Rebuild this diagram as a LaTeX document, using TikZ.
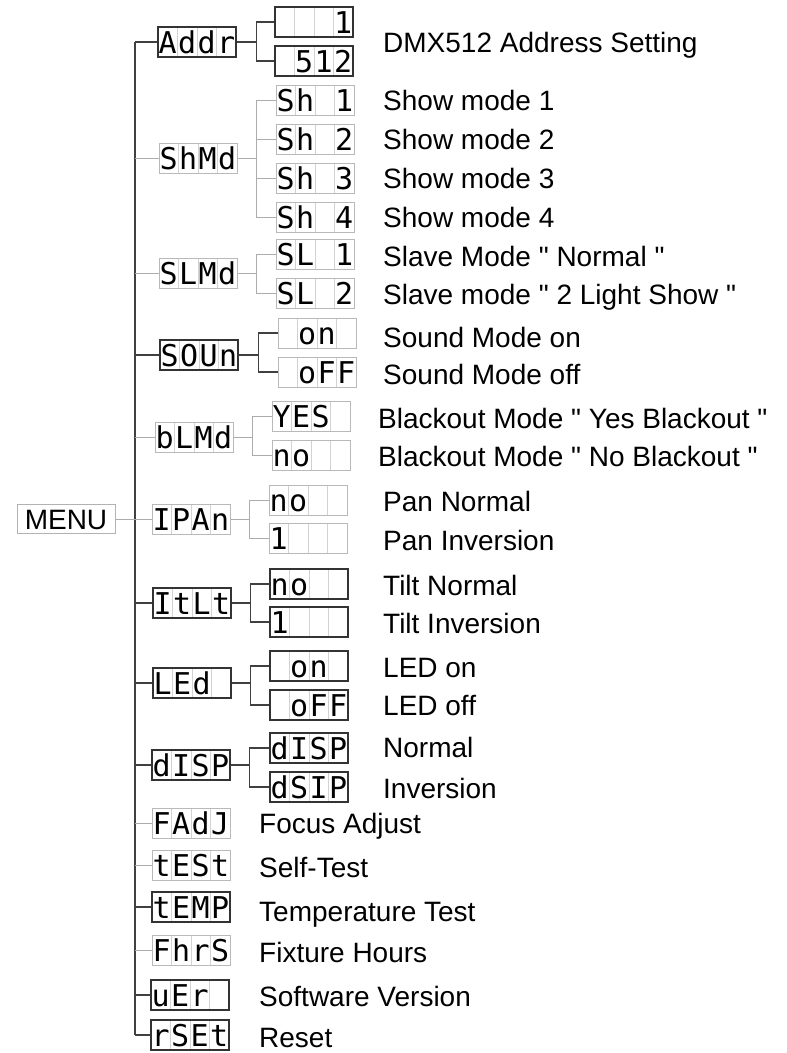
\documentclass[tikz,border=0pt]{standalone}
\usepackage{fontspec}
\setmainfont{Liberation Sans}
\newfontfamily\segfont{DejaVu Sans Mono}
\usepackage{tikz}

% four display digits in one box
\newcommand{\lcdtxt}[4]{\makebox[19.5pt]{#1}\makebox[19.5pt]{#2}\makebox[19.5pt]{#3}\makebox[19.5pt]{#4}}

\begin{document}
\begin{tikzpicture}
[x=1pt, y=-1pt,
 lcd/.style={rectangle, draw=gray!55, line width=1pt, inner sep=0pt,
   minimum width=78pt, minimum height=30pt, text height=22pt, text depth=0pt,
   font=\segfont\fontsize{30}{30}\selectfont,
   path picture={\foreach \i in {1,2,3}
     \draw[gray!35, line width=0.8pt] ([xshift=\i*19.5pt]path picture bounding box.north west)
       -- ([xshift=\i*19.5pt]path picture bounding box.south west);}},
 lcdd/.style={lcd, draw=black!80, line width=1.5pt},
 menubox/.style={rectangle, draw=gray!60, line width=1pt, inner sep=0pt,
   minimum width=98pt, minimum height=29pt, text height=20pt, text depth=0pt,
   font=\fontsize{28}{30}\selectfont},
 lbl/.style={anchor=west, inner sep=0pt, text height=20pt, text depth=0pt,
   font=\fontsize{28}{30}\selectfont},
 wire/.style={draw=black!75, line width=1.3pt},
 wirel/.style={draw=gray!65, line width=1pt}]

\useasboundingbox (0,0) rectangle (787,1053);

% menu and first level
\node[menubox] (menu) at (66,519) {MENU};
\node[lcdd] (addr) at (197,42) {\lcdtxt{A}{d}{d}{r}};
\node[lcd] (shmd) at (198,158) {\lcdtxt{S}{h}{M}{d}};
\node[lcd] (slmd) at (198,273) {\lcdtxt{S}{L}{M}{d}};
\node[lcdd] (soun) at (199,355) {\lcdtxt{S}{O}{U}{n}};
\node[lcd] (blmd) at (194,437) {\lcdtxt{b}{L}{M}{d}};
\node[lcd] (ipan) at (191,519) {\lcdtxt{I}{P}{A}{n}};
\node[lcdd] (itlt) at (192,603) {\lcdtxt{I}{t}{L}{t}};
\node[lcdd] (led) at (192,683) {\lcdtxt{L}{E}{d}{}};
\node[lcdd] (disp) at (191,765) {\lcdtxt{d}{I}{S}{P}};
\node[lcd] (fadj) at (191,823) {\lcdtxt{F}{A}{d}{J}};
\node[lcd] (test) at (191,865) {\lcdtxt{t}{E}{S}{t}};
\node[lcdd] (temp) at (191,907) {\lcdtxt{t}{E}{M}{P}};
\node[lcd] (fhrs) at (191,950) {\lcdtxt{F}{h}{r}{S}};
\node[lcdd] (ver) at (190,995) {\lcdtxt{u}{E}{r}{}};
\node[lcdd] (rset) at (190,1035) {\lcdtxt{r}{S}{E}{t}};

% second level
\node[lcdd] (adr1) at (314,22) {\lcdtxt{}{}{}{1}};
\node[lcdd] (adr2) at (314,61) {\lcdtxt{}{5}{1}{2}};
\node[lcd] (sh1) at (315,100) {\lcdtxt{S}{h}{}{1}};
\node[lcd] (sh2) at (315,139) {\lcdtxt{S}{h}{}{2}};
\node[lcd] (sh3) at (315,178) {\lcdtxt{S}{h}{}{3}};
\node[lcd] (sh4) at (315,217) {\lcdtxt{S}{h}{}{4}};
\node[lcd] (sl1) at (315,254) {\lcdtxt{S}{L}{}{1}};
\node[lcd] (sl2) at (315,293) {\lcdtxt{S}{L}{}{2}};
\node[lcd] (son) at (317,333) {\lcdtxt{}{o}{n}{}};
\node[lcd] (soff) at (317,372) {\lcdtxt{}{o}{F}{F}};
\node[lcd] (byes) at (311,416) {\lcdtxt{Y}{E}{S}{}};
\node[lcd] (bno) at (311,455) {\lcdtxt{n}{o}{}{}};
\node[lcd] (pno) at (308,500) {\lcdtxt{n}{o}{}{}};
\node[lcd] (pinv) at (308,538) {\lcdtxt{1}{}{}{}};
\node[lcdd] (tno) at (309,584) {\lcdtxt{n}{o}{}{}};
\node[lcdd] (tinv) at (309,622) {\lcdtxt{1}{}{}{}};
\node[lcdd] (lon) at (309,666) {\lcdtxt{}{o}{n}{}};
\node[lcdd] (loff) at (309,705) {\lcdtxt{}{o}{F}{F}};
\node[lcdd] (dnor) at (309,748) {\lcdtxt{d}{I}{S}{P}};
\node[lcdd] (dinv) at (309,787) {\lcdtxt{d}{S}{I}{P}};

% descriptions
\node[lbl] at (383,42) {DMX512 Address Setting};
\node[lbl] at (383,100) {Show mode 1};
\node[lbl] at (383,139) {Show mode 2};
\node[lbl] at (383,178) {Show mode 3};
\node[lbl] at (383,217) {Show mode 4};
\node[lbl] at (383,256) {Slave Mode \textquotedbl{} Normal \textquotedbl};
\node[lbl] at (383,294) {Slave mode \textquotedbl{} 2 Light Show \textquotedbl};
\node[lbl] at (383,337) {Sound Mode on};
\node[lbl] at (383,374) {Sound Mode off};
\node[lbl] at (378,418) {Blackout Mode \textquotedbl{} Yes Blackout \textquotedbl};
\node[lbl] at (378,456) {Blackout Mode \textquotedbl{} No Blackout \textquotedbl};
\node[lbl] at (383,501) {Pan Normal};
\node[lbl] at (383,540) {Pan Inversion};
\node[lbl] at (383,585) {Tilt Normal};
\node[lbl] at (383,623) {Tilt Inversion};
\node[lbl] at (383,667) {LED on};
\node[lbl] at (383,705) {LED off};
\node[lbl] at (383,747) {Normal};
\node[lbl] at (383,788) {Inversion};
\node[lbl] at (259,823) {Focus Adjust};
\node[lbl] at (259,867) {Self-Test};
\node[lbl] at (259,911) {Temperature Test};
\node[lbl] at (259,952) {Fixture Hours};
\node[lbl] at (259,996) {Software Version};
\node[lbl] at (259,1037) {Reset};

% trunk
\coordinate (ttop) at (135,42);
\coordinate (tbot) at (135,1035);
\draw[wire] (ttop) -- (tbot);
\draw[wirel] (menu.east) -- (menu.east -| ttop);
\foreach \s in {addr,soun,itlt,led,disp,temp,ver,rset}
  \draw[wire] (\s.west) -- (\s.west -| ttop);
\foreach \s in {shmd,slmd,blmd,ipan,fadj,test,fhrs}
  \draw[wirel] (\s.west) -- (\s.west -| ttop);

% branches
\draw[wire] (addr.east) -- ++(20,0) |- (adr1.west);
\draw[wire] (addr.east) -- ++(20,0) |- (adr2.west);
\draw[wirel] (shmd.east) -- ++(19,0) |- (sh1.west);
\draw[wirel] (shmd.east) -- ++(19,0) |- (sh2.west);
\draw[wirel] (shmd.east) -- ++(19,0) |- (sh3.west);
\draw[wirel] (shmd.east) -- ++(19,0) |- (sh4.west);
\draw[wirel] (slmd.east) -- ++(19,0) |- (sl1.west);
\draw[wirel] (slmd.east) -- ++(19,0) |- (sl2.west);
\draw[wire] (soun.east) -- ++(20,0) |- (son.west);
\draw[wire] (soun.east) -- ++(20,0) |- (soff.west);
\draw[wirel] (blmd.east) -- ++(19,0) |- (byes.west);
\draw[wirel] (blmd.east) -- ++(19,0) |- (bno.west);
\draw[wirel] (ipan.east) -- ++(19,0) |- (pno.west);
\draw[wirel] (ipan.east) -- ++(19,0) |- (pinv.west);
\draw[wire] (itlt.east) -- ++(19,0) |- (tno.west);
\draw[wire] (itlt.east) -- ++(19,0) |- (tinv.west);
\draw[wire] (led.east) -- ++(19,0) |- (lon.west);
\draw[wire] (led.east) -- ++(19,0) |- (loff.west);
\draw[wire] (disp.east) -- ++(19,0) |- (dnor.west);
\draw[wire] (disp.east) -- ++(19,0) |- (dinv.west);

\end{tikzpicture}
\end{document}
